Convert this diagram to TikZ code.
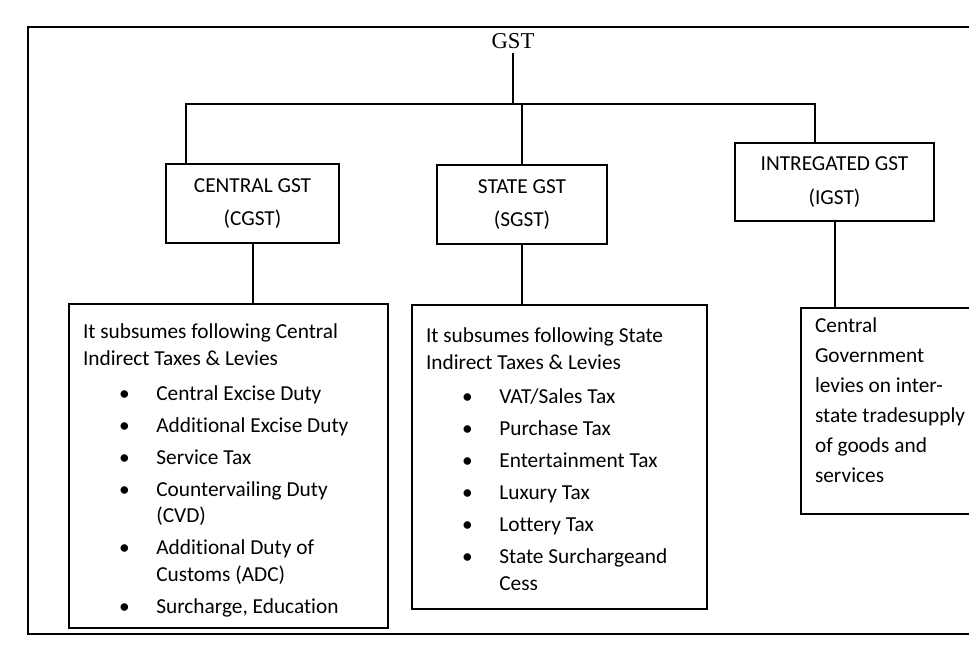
\documentclass[tikz,border=0pt]{standalone}
\usepackage{fontspec}
\setmainfont{Carlito}[Ligatures={NoCommon,NoContextual}]
\newfontfamily\gstfont{Liberation Serif}
\usepackage{enumitem}
\newcommand{\boxtext}[4]{\parbox[c][#2][t]{#1}{\vspace*{#3}\raggedright #4}}
\tikzset{
  outerframe/.style={line width=1.5pt},
  head/.style={draw, line width=1.5pt, align=center, inner sep=0pt,
    font=\fontsize{16}{25}\selectfont},
  listbox/.style={draw, line width=1.5pt, anchor=north west,
    inner xsep=10.5pt, inner ysep=0pt, font=\fontsize{16}{20}\selectfont},
  link/.style={line width=1.5pt}
}
\setlist[itemize]{label=\textbullet, leftmargin=55pt, labelsep=20pt,
  itemsep=4pt, topsep=6pt, parsep=0pt}
\begin{document}
\begin{tikzpicture}[x=0.75pt, y=-0.75pt]
      \useasboundingbox (0,0) rectangle (969,657);
      \clip (0,0) rectangle (969,657);
      \draw[outerframe] (28,27) rectangle (1020,634);
      \node[font=\gstfont\fontsize{17}{20}\selectfont] (gst) at (513,41) {GST};
      \coordinate (barL) at (186,104);
      \coordinate (barR) at (815,104);
      % the three heads
      \node[head, minimum width=129.75pt, minimum height=59.25pt] (cgst) at (252.5,203.5)
        {CENTRAL GST\\(CGST)};
      \node[head, minimum width=127.5pt, minimum height=59.25pt] (sgst) at (522,204.5)
        {STATE GST\\(SGST)};
      \node[head, minimum width=149.25pt, minimum height=58.5pt] (igst) at (834.5,182)
        {INTREGATED GST\\(IGST)};
      % what each one covers
      \node[listbox] (clist) at (68,303) {\boxtext{218pt}{243pt}{15pt}{%
        It subsumes following Central\\ Indirect Taxes \& Levies
        \begin{itemize}
          \item Central Excise Duty
          \item Additional Excise Duty
          \item Service Tax
          \item Countervailing Duty\\(CVD)
          \item Additional Duty of\\Customs (ADC)
          \item Surcharge, Education
        \end{itemize}}};
      \node[listbox] (slist) at (411,304) {\boxtext{200pt}{228pt}{17pt}{%
        It subsumes following State\\ Indirect Taxes \& Levies
        \begin{itemize}
          \item VAT/Sales Tax
          \item Purchase Tax
          \item Entertainment Tax
          \item Luxury Tax
          \item Lottery Tax
          \item State Surchargeand\\Cess
        \end{itemize}}};
      \node[listbox] (ilist) at (800,307) {\boxtext{129pt}{154.5pt}{7.5pt}{%
        \fontsize{16}{22.5}\selectfont
        Central\\Government\\levies on inter-\\state tradesupply\\of goods and\\services}};
      \begin{scope}[link]
        \draw (gst) -- (gst |- barL);
        \draw (cgst.north -| barL) -- (barL) -- (barR) -- (igst.north -| barR);
        \draw (sgst) -- (sgst |- barL);
        \draw (cgst) -- (cgst |- clist.north);
        \draw (sgst) -- (sgst |- slist.north);
        \draw (igst) -- (igst |- ilist.north);
      \end{scope}
\end{tikzpicture}
\end{document}
